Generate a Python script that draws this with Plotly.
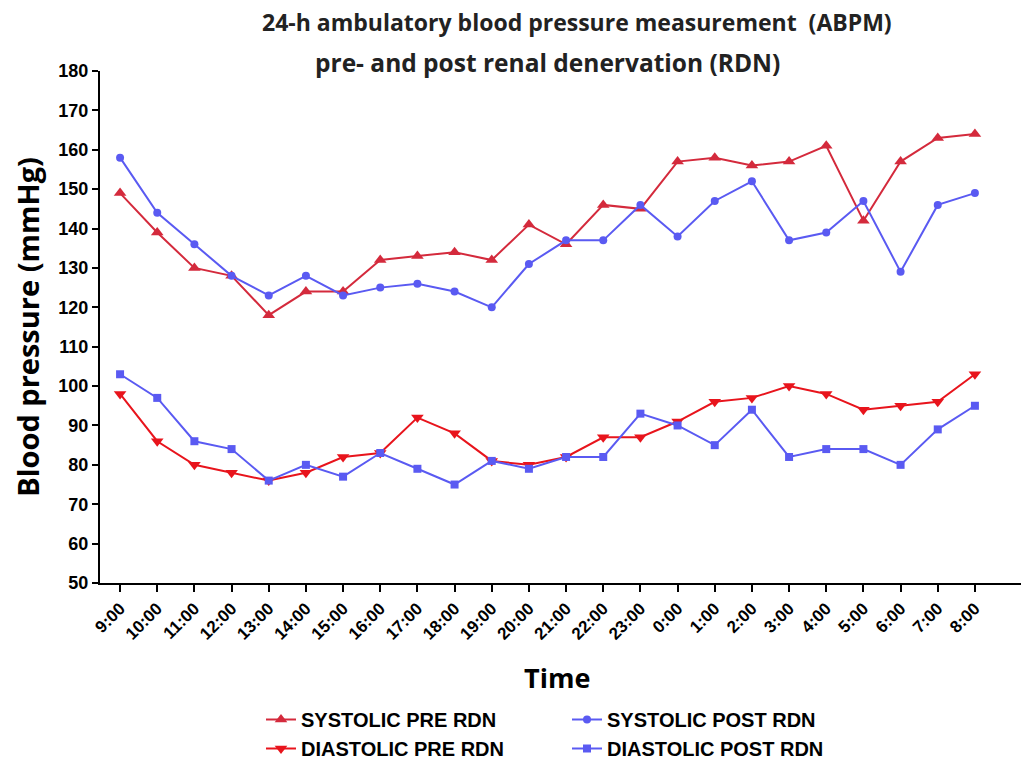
import plotly.graph_objects as go

times = ["9:00", "10:00", "11:00", "12:00", "13:00", "14:00", "15:00", "16:00", "17:00", "18:00",
         "19:00", "20:00", "21:00", "22:00", "23:00", "0:00", "1:00", "2:00", "3:00", "4:00",
         "5:00", "6:00", "7:00", "8:00"]
systolic_pre = [149, 139, 130, 128, 118, 124, 124, 132, 133, 134, 132, 141, 136, 146, 145, 157, 158, 156, 157, 161, 142, 157, 163, 164]
systolic_post = [158, 144, 136, 128, 123, 128, 123, 125, 126, 124, 120, 131, 137, 137, 146, 138, 147, 152, 137, 139, 147, 129, 146, 149]
diastolic_pre = [98, 86, 80, 78, 76, 78, 82, 83, 92, 88, 81, 80, 82, 87, 87, 91, 96, 97, 100, 98, 94, 95, 96, 103]
diastolic_post = [103, 97, 86, 84, 76, 80, 77, 83, 79, 75, 81, 79, 82, 82, 93, 90, 85, 94, 82, 84, 84, 80, 89, 95]
y_ticks = list(range(50, 181, 10))

RED1 = "#D42A3C"
RED2 = "#E8141C"
BLUE = "#5A5AF2"

L, R, T, B = 100, 0, 71, 177
W, H = 1021, 760
PW = W - L - R
PH = H - T - B

x = list(range(len(times)))
fig = go.Figure()
fig.add_trace(go.Scatter(x=x, y=systolic_pre, name="<b>SYSTOLIC PRE RDN</b>", mode="lines+markers",
                         legend="legend", legendgroup="a",
                         line=dict(color=RED1, width=2), marker=dict(symbol="triangle-up", size=11, color=RED1)))
fig.add_trace(go.Scatter(x=x, y=systolic_post, name="<b>SYSTOLIC POST RDN</b>", mode="lines+markers",
                         legend="legend2", legendgroup="b",
                         line=dict(color=BLUE, width=2), marker=dict(symbol="circle", size=8, color=BLUE)))
fig.add_trace(go.Scatter(x=x, y=diastolic_pre, name="<b>DIASTOLIC PRE RDN</b>", mode="lines+markers",
                         legend="legend", legendgroup="c",
                         line=dict(color=RED2, width=2), marker=dict(symbol="triangle-down", size=11, color=RED2)))
fig.add_trace(go.Scatter(x=x, y=diastolic_post, name="<b>DIASTOLIC POST RDN</b>", mode="lines+markers",
                         legend="legend2", legendgroup="d",
                         line=dict(color=BLUE, width=2), marker=dict(symbol="square", size=8, color=BLUE)))

title_font = dict(family="Open Sans, Arial", size=23, color="#222")
fig.add_annotation(text="<b>24-h ambulatory blood pressure measurement&nbsp;&nbsp;(ABPM)</b>", xref="paper", yref="paper",
                   x=(577 - L) / PW, y=1 + (T - 22) / PH, showarrow=False, font=title_font,
                   xanchor="center", yanchor="middle")
fig.add_annotation(text="<b>pre- and post renal denervation (RDN)</b>", xref="paper", yref="paper",
                   x=(547 - L) / PW, y=1 + (T - 62) / PH, showarrow=False, font=dict(title_font, size=24.5),
                   xanchor="center", yanchor="middle")
fig.add_annotation(text="<b>Time</b>", xref="paper", yref="paper",
                   x=(557 - L) / PW, y=-(677 - T - PH) / PH, showarrow=False,
                   font=dict(family="Open Sans, Arial", size=27, color="black"),
                   xanchor="center", yanchor="middle")

legend_common = dict(orientation="v", xanchor="left", yanchor="top", tracegroupgap=0,
                     font=dict(size=20, family="Arial, Liberation Sans", color="black"),
                     itemwidth=30, bgcolor="rgba(0,0,0,0)")
fig.update_layout(
    width=W, height=H,
    margin=dict(l=L, r=R, t=T, b=B, autoexpand=False),
    plot_bgcolor="white", paper_bgcolor="white",
    font=dict(family="Arial, Liberation Sans", color="black"),
    showlegend=True,
    legend=dict(legend_common, x=(261 - L) / PW, y=-(700 - T - PH) / PH),
    legend2=dict(legend_common, x=(567 - L) / PW, y=-(700 - T - PH) / PH),
)
fig.update_xaxes(
    tickmode="array", tickvals=x, ticktext=[f"<b>{t}</b>" for t in times],
    range=[-0.54, 24.24], showline=True, linecolor="black", linewidth=2,
    ticks="outside", ticklen=7, tickwidth=2, tickcolor="black", tickangle=-45,
    tickfont=dict(size=17), showgrid=False, zeroline=False, automargin=False,
)
fig.update_yaxes(
    range=[50, 180], tickvals=y_ticks, ticktext=[f"<b>{v}</b>" for v in y_ticks],
    showline=True, linecolor="black", linewidth=2,
    ticks="outside", ticklen=6, tickwidth=2, tickcolor="black",
    tickfont=dict(size=18), showgrid=False, zeroline=False, automargin=False,
    title=dict(text="<b>Blood pressure (mmHg)</b>", font=dict(family="Open Sans, Arial", size=29), standoff=10),
)
fig.write_html("out.html", config={"displayModeBar": False},
               post_script="document.body.style.margin='0';")
